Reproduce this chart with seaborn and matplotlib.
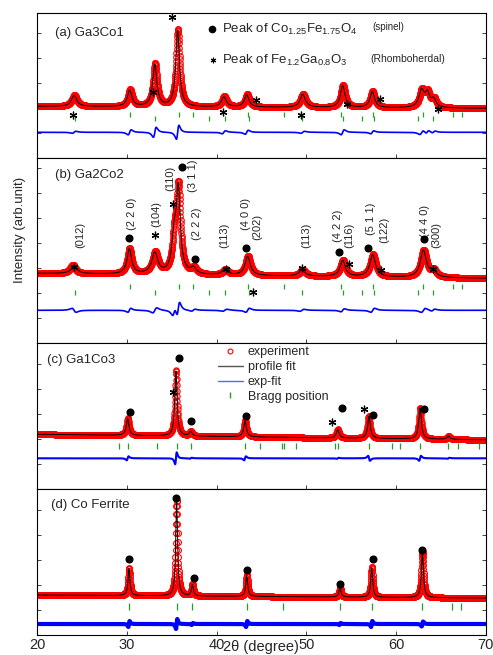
import numpy as np
import pandas as pd
import seaborn as sns
import matplotlib.pyplot as plt
from matplotlib.lines import Line2D

# ---- data (peak positions in 2theta, intensities in arb. units) ----
two_theta = np.arange(20, 70.001, 0.02)

# (a) Ga3Co1
a_pos = [24.1, 30.3, 33.1, 35.65, 40.8, 43.35, 49.6, 54.05, 57.35, 62.85, 63.5, 64.2]
a_amp = [11, 16, 42, 76, 10, 12, 13, 22, 16, 17, 13, 8]
a_fwhm = [0.7, 0.6, 0.55, 0.5, 0.65, 0.6, 0.7, 0.6, 0.6, 0.7, 0.6, 0.6]
a_res = [2, 5, 10, 14, 3, 4, 2, 5, 3, 4, 3, 2]
a_base = (52, 50)
a_diff = 26
a_bragg_sp = [30.3, 35.77, 37.36, 43.46, 47.55, 53.87, 57.47, 63.04, 66.32, 67.39]
a_bragg_rh = [24.17, 33.16, 39.18, 40.9, 43.6, 49.48, 54.05, 56.24, 57.58, 62.48, 64.16]
a_dot_x, a_dot_y = [], []
a_star_x = [34.98, 32.94, 40.74, 44.39, 24.01, 49.41, 54.5, 58.22, 64.65]
a_star_y = [141.7, 66.7, 46.7, 58.3, 43.3, 43.3, 54.3, 59.3, 49.3]

# (b) Ga2Co2
b_pos = [24.1, 30.26, 33.1, 35.25, 35.72, 37.4, 40.9, 43.45, 49.5, 54.05, 57.4, 63.05, 64.15]
b_amp = [8, 25, 21, 32, 82, 6, 5, 19, 6, 16, 22, 27, 6]
b_fwhm = [0.8, 0.6, 0.8, 0.6, 0.55, 0.7, 0.8, 0.7, 0.8, 0.7, 0.75, 0.8, 0.7]
b_res = [-4, 4, 5, 8, 14, 2, 2, 4, 2, 3, 4, 4, 2]
b_base = (70, 65)
b_diff = 33
b_bragg_sp = a_bragg_sp
b_bragg_rh = a_bragg_rh
b_dot_x = [30.26, 36.1, 37.58, 43.23, 53.64, 56.9, 63.16]
b_dot_y = [105.7, 176.3, 84, 95.3, 91.3, 95.3, 104]
b_star_x = [24.13, 33.12, 35.17, 41.0, 49.48, 54.8, 58.33, 64.16, 44.09]
b_star_y = [76.3, 108, 139.7, 74.7, 75.7, 79.7, 73.7, 74.7, 51.3]
b_hkl = ['(012)', '(2 2 0)', '(104)', '(110)', '(3 1 1)', '(2 2 2)', '(113)', '(4 0 0)',
         '(202)', '(113)', '(4 2 2)', '(116)', '(5 1 1)', '(122)', '(4 4 0)', '(300)']
b_hkl_x = [24.76, 30.6, 33.3, 34.87, 37.4, 37.77, 40.82, 43.27,
           44.57, 49.96, 53.57, 54.8, 57.2, 58.7, 63.2, 64.5]
b_hkl_y = [108, 129.7, 129.7, 164.7, 168, 119.7, 108, 129.7,
           116.3, 108, 117, 108, 124.7, 113, 122, 108]

# (c) Ga1Co3
c_pos = [30.07, 35.46, 37.1, 43.16, 53.5, 56.99, 62.68, 65.84]
c_amp = [17, 65, 4.5, 16, 8.5, 22, 31, 3]
c_fwhm = [0.35, 0.3, 0.35, 0.35, 0.35, 0.35, 0.35, 0.4]
c_res = [4, 12, 1, 4, 1, -5, 5, 1]
c_base = (55, 49.5)
c_diff = 31
c_bragg = [29.11, 30.07, 33.31, 35.54, 37.14, 43.16, 44.83, 47.25, 47.55, 48.85,
           53.2, 53.5, 56.99, 59.52, 60.45, 62.68, 65.84, 66.95, 69.29]
c_dot_x = [30.33, 35.8, 37.1, 43.27, 53.94, 57.47, 63.16]
c_dot_y = [77.7, 131, 68.7, 73.3, 81.7, 74.3, 80.7]
c_star_x = [35.09, 52.9, 56.47]
c_star_y = [97.7, 67.7, 80.3]

# (d) Co Ferrite
d_pos = [30.22, 35.54, 37.29, 43.35, 53.75, 57.29, 62.94]
d_amp = [27, 95, 11, 21, 9.5, 30, 45]
d_fwhm = [0.25, 0.25, 0.25, 0.25, 0.25, 0.25, 0.28]
d_res = [6, 10, 2, 6, 2, 6, 5]
d_base = (40, 37)
d_diff = 11
d_bragg = [30.26, 35.54, 37.29, 43.35, 47.44, 53.75, 57.29, 62.94, 66.21, 67.21]
d_dot_x = [30.26, 35.46, 37.47, 43.35, 53.75, 57.4, 62.86]
d_dot_y = [76, 136.7, 57.3, 65, 51.3, 76, 85.3]

panel_labels = ['(a) Ga3Co1', '(b) Ga2Co2', '(c) Ga1Co3', '(d) Co Ferrite']

# ---- style ----
sns.set_style('ticks')
plt.rcParams['font.family'] = ['Liberation Sans', 'DejaVu Sans']
plt.rcParams['mathtext.fontset'] = 'custom'
plt.rcParams['mathtext.rm'] = 'Liberation Sans'
plt.rcParams['mathtext.it'] = 'Liberation Sans:italic'

RED = '#ff0000'
BLUE = '#0000ff'
GREEN = '#22a022'

W, H = 493, 655
fig = plt.figure(figsize=(W / 100, H / 100), dpi=100)


def px_axes(top, bottom):
    return fig.add_axes([37.3 / W, 1 - bottom / H, 448.4 / W, (bottom - top) / H])


def profile(pos, amp, fwhm, base):
    y = np.linspace(base[0], base[1], len(two_theta))
    for p, a, w in zip(pos, amp, fwhm):
        u = (two_theta - p) / (w / 2)
        y = y + a / (1 + u ** 2)
    return y


def residual(pos, res, fwhm, level):
    y = np.full(len(two_theta), float(level))
    for p, r, w in zip(pos, res, fwhm):
        u = (two_theta - p) / (w / 2)
        y = y + r * u / (1 + u ** 2) ** 2 / 0.65
    return y


def draw_panel(ax, pos, amp, fwhm, res, base, diff, ms, diff_lw, height):
    fit = profile(pos, amp, fwhm, base)
    dif = residual(pos, res, fwhm, diff)
    exp = fit + (dif - diff)
    df = pd.DataFrame({'x': two_theta, 'exp': exp, 'fit': fit, 'dif': dif})
    sns.lineplot(data=df, x='x', y='exp', ax=ax, estimator=None, errorbar=None,
                 marker='o', linestyle='', markersize=ms, markerfacecolor='none',
                 markeredgecolor=RED, markeredgewidth=0.8, color=RED)
    sns.lineplot(data=df, x='x', y='fit', ax=ax, estimator=None, errorbar=None,
                 color='black', linewidth=0.7)
    sns.lineplot(data=df, x='x', y='dif', ax=ax, estimator=None, errorbar=None,
                 color=BLUE, linewidth=diff_lw)
    ax.set_xlim(20, 70)
    ax.set_ylim(0, height)
    ax.set_xticks([20, 30, 40, 50, 60, 70])
    ax.set_yticks(np.arange(25, height, 25))
    ax.set_xlabel('')
    ax.set_ylabel('')
    ax.tick_params(direction='in', length=3, width=0.6, top=False, right=True,
                   labelleft=False, labelbottom=False, labelsize=10.5, pad=2.5)
    for s in ax.spines.values():
        s.set_visible(True)
        s.set_linewidth(0.8)
        s.set_color('black')


def draw_marks(ax, dot_x, dot_y, star_x, star_y):
    if dot_x:
        ax.plot(dot_x, dot_y, 'o', color='black', markersize=4.8, zorder=5)
    if star_x:
        ax.plot(star_x, star_y, marker=(6, 2, 0), linestyle='', color='black',
                markersize=5.5, markeredgewidth=0.9, zorder=5)


ax_a = px_axes(13.3, 158.3)
ax_b = px_axes(158.3, 343.3)
ax_c = px_axes(343.3, 489.3)
ax_d = px_axes(489.3, 635.0)

draw_panel(ax_a, a_pos, a_amp, a_fwhm, a_res, a_base, a_diff, 4.0, 1.2, 145)
draw_panel(ax_b, b_pos, b_amp, b_fwhm, b_res, b_base, b_diff, 4.0, 1.2, 185)
draw_panel(ax_c, c_pos, c_amp, c_fwhm, c_res, c_base, c_diff, 3.8, 1.5, 146)
draw_panel(ax_d, d_pos, d_amp, d_fwhm, d_res, d_base, d_diff, 4.2, 3.0, 145.7)

# Bragg positions
ax_a.vlines(a_bragg_sp, 41.6, 46.6, color=GREEN, linewidth=0.9)
ax_a.vlines(a_bragg_rh, 37.3, 42.3, color=GREEN, linewidth=0.9)
ax_b.vlines(b_bragg_sp, 54, 59, color=GREEN, linewidth=0.9)
ax_b.vlines(b_bragg_rh, 48, 53, color=GREEN, linewidth=0.9)
ax_c.vlines(c_bragg, 40.3, 46, color=GREEN, linewidth=0.9)
ax_d.vlines(d_bragg, 25, 32.3, color=GREEN, linewidth=0.9)

draw_marks(ax_a, a_dot_x, a_dot_y, a_star_x, a_star_y)
draw_marks(ax_b, b_dot_x, b_dot_y, b_star_x, b_star_y)
draw_marks(ax_c, c_dot_x, c_dot_y, c_star_x, c_star_y)
draw_marks(ax_d, d_dot_x, d_dot_y, [], [])

for t, x, y in zip(b_hkl, b_hkl_x, b_hkl_y):
    ax_b.text(x, y, t, rotation=90, ha='center', va='center', fontsize=8)

# panel labels
ax_a.text(21.97, 125, panel_labels[0], fontsize=9.5, va='center')
ax_b.text(21.97, 168, panel_labels[1], fontsize=9.5, va='center')
ax_c.text(21.05, 129.3, panel_labels[2], fontsize=9.5, va='center')
ax_d.text(21.49, 130, panel_labels[3], fontsize=9.5, va='center')

# phase key in (a)
ax_a.plot([39.45], [129], 'o', color='black', markersize=4.5)
ax_a.plot([39.6], [98.3], marker=(6, 2, 0), color='black', markersize=4,
          markeredgewidth=0.8, linestyle='')
ax_a.text(40.56, 129, r'Peak of Co$_{1.25}$Fe$_{1.75}$O$_4$', fontsize=9.5, va='center')
ax_a.text(57.36, 131, '(spinel)', fontsize=7, va='center')
ax_a.text(40.56, 98.3, r'Peak of Fe$_{1.2}$Ga$_{0.8}$O$_3$', fontsize=9.5, va='center')
ax_a.text(57.1, 99.5, '(Rhomboherdal)', fontsize=7.5, va='center')

# legend in (c)
handles = [
    Line2D([], [], marker='o', linestyle='', markerfacecolor='none',
           markeredgecolor=RED, markersize=3.5, markeredgewidth=0.8),
    Line2D([], [], color='#555555', linewidth=1.0),
    Line2D([], [], color='#6060ff', linewidth=1.0),
    Line2D([], [], marker='|', linestyle='', color=GREEN, markersize=5,
           markeredgewidth=1.0),
]
ax_c.legend(handles, ['experiment', 'profile fit', 'exp-fit', 'Bragg position'],
            loc='upper left', bbox_to_anchor=(0.395, 1.0), frameon=False,
            fontsize=9, handlelength=2.0, handletextpad=0.4, labelspacing=0.22,
            borderpad=0.25, borderaxespad=0, numpoints=1)

ax_d.tick_params(labelbottom=True)

fig.text(20 / W, 1 - 230 / H, 'Intensity (arb.unit)', rotation=90,
         ha='center', va='center', fontsize=9.5)
fig.text(261 / W, 1 / H, '2θ (degree)', ha='center', va='bottom', fontsize=10.5)

fig.savefig('out.png', dpi=100)
